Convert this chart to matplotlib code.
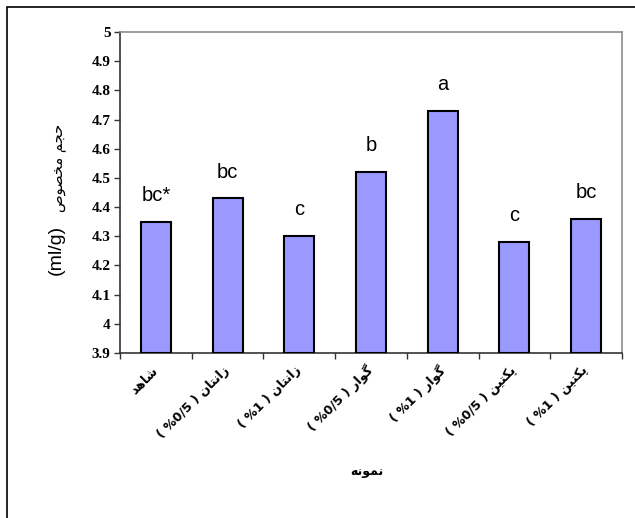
import numpy as np
import matplotlib
matplotlib.use("Agg")
import matplotlib.pyplot as plt
from matplotlib.patches import Rectangle

# data
samples = ["شاهد", "زانتان", "زانتان", "گوار", "گوار", "پکتین", "پکتین"]
percents = ["", "( %0/5 )", "( %1 )", "( %0/5 )", "( %1 )", "( %0/5 )", "( %1 )"]
values = [4.35, 4.43, 4.30, 4.52, 4.73, 4.28, 4.36]
letters = ["bc*", "bc", "c", "b", "a", "c", "bc"]
y_ticks = [3.9, 4.0, 4.1, 4.2, 4.3, 4.4, 4.5, 4.6, 4.7, 4.8, 4.9, 5.0]

x_title = "نمونه"
y_title_fa = "حجم مخصوص"
y_title_unit = "(ml/g)"

# matplotlib has no arabic shaping, so pick presentation forms by hand
# (isolated, final, initial, medial)
FORMS = {
    "ا": ("\uFE8D", "\uFE8E", None, None),
    "ت": ("\uFE95", "\uFE96", "\uFE97", "\uFE98"),
    "ج": ("\uFE9D", "\uFE9E", "\uFE9F", "\uFEA0"),
    "ح": ("\uFEA1", "\uFEA2", "\uFEA3", "\uFEA4"),
    "خ": ("\uFEA5", "\uFEA6", "\uFEA7", "\uFEA8"),
    "د": ("\uFEA9", "\uFEAA", None, None),
    "ر": ("\uFEAD", "\uFEAE", None, None),
    "ز": ("\uFEAF", "\uFEB0", None, None),
    "ش": ("\uFEB5", "\uFEB6", "\uFEB7", "\uFEB8"),
    "ص": ("\uFEB9", "\uFEBA", "\uFEBB", "\uFEBC"),
    "م": ("\uFEE1", "\uFEE2", "\uFEE3", "\uFEE4"),
    "ن": ("\uFEE5", "\uFEE6", "\uFEE7", "\uFEE8"),
    "ه": ("\uFEE9", "\uFEEA", "\uFEEB", "\uFEEC"),
    "و": ("\uFEED", "\uFEEE", None, None),
    "پ": ("\uFB56", "\uFB57", "\uFB58", "\uFB59"),
    "ک": ("\uFB8E", "\uFB8F", "\uFB90", "\uFB91"),
    "گ": ("\uFB92", "\uFB93", "\uFB94", "\uFB95"),
    "ی": ("\uFBFC", "\uFBFD", "\uFBFE", "\uFBFF"),
}


def shape(text):
    words = []
    for word in text.split(" "):
        res = ""
        for k, ch in enumerate(word):
            if ch not in FORMS:
                res += ch
                continue
            iso, fin, ini, med = FORMS[ch]
            prev = word[k - 1] if k > 0 else None
            nxt = word[k + 1] if k + 1 < len(word) else None
            join_prev = prev in FORMS and FORMS[prev][2] is not None
            join_next = ini is not None and nxt in FORMS
            if join_prev and join_next:
                res += med
            elif join_prev:
                res += fin
            elif join_next:
                res += ini
            else:
                res += iso
        words.append(res[::-1])
    return " ".join(words[::-1])


plt.rcParams["font.family"] = ["DejaVu Sans"]

fig = plt.figure(figsize=(6.35, 5.18), dpi=100)
ax = fig.add_axes([0.189, 0.3185, 0.7905, 0.6197])

x = np.arange(len(values))
ax.bar(x, np.array(values) - 3.9, bottom=3.9, width=0.42,
       color="#9999FF", edgecolor="black", linewidth=1.5, zorder=3)

for i, v in enumerate(values):
    ax.annotate(letters[i], (i, v), xytext=(0, 15), textcoords="offset points",
                ha="center", va="baseline", fontsize=14.5,
                family="Liberation Sans")

ax.set_xlim(-0.5, len(values) - 0.5)
ax.set_ylim(3.9, 5.0)

ax.set_yticks(y_ticks)
ax.set_yticklabels([f"{t:g}" for t in y_ticks], family="Liberation Serif",
                   fontweight="bold", fontsize=11)
ax.tick_params(axis="y", direction="out", length=4.3, width=1, pad=2.5,
               color="#333333")

# category labels at centres, tick marks at the boundaries
ax.set_xticks(x)
labels = [(p + " " if p else "") + shape(s) for s, p in zip(samples, percents)]
ax.set_xticklabels(labels, rotation=45, ha="right", va="center",
                   rotation_mode="anchor", fontsize=9, fontweight="bold")
ax.tick_params(axis="x", which="major", length=0, pad=11)
ax.set_xticks(np.arange(-0.5, len(values)), minor=True)
ax.tick_params(axis="x", which="minor", direction="out", length=4, width=1,
               color="#333333")

ax.spines["left"].set_color("#333333")
ax.spines["bottom"].set_color("#333333")
ax.spines["top"].set_color("#8c8c8c")
ax.spines["right"].set_color("#8c8c8c")
for sp in ax.spines.values():
    sp.set_linewidth(1.2)

fig.text(367 / 635, 1 - 472 / 518, shape(x_title), ha="center", va="center",
         fontsize=9, fontweight="bold")
fig.text(56 / 635, 1 - 250 / 518, y_title_unit, ha="center", va="center",
         rotation=90, fontsize=14, family="Liberation Sans")
fig.text(58 / 635, 1 - 168 / 518, shape(y_title_fa), ha="center", va="center",
         rotation=90, fontsize=10.5)

# outer chart frame (only top and left edges fall inside the picture)
fig.add_artist(Rectangle((6.5 / 635, -0.1), 2, 1 - 7 / 518 + 0.1,
                         transform=fig.transFigure, fill=False,
                         edgecolor="black", linewidth=1.2))

fig.savefig("out.png", dpi=100)
